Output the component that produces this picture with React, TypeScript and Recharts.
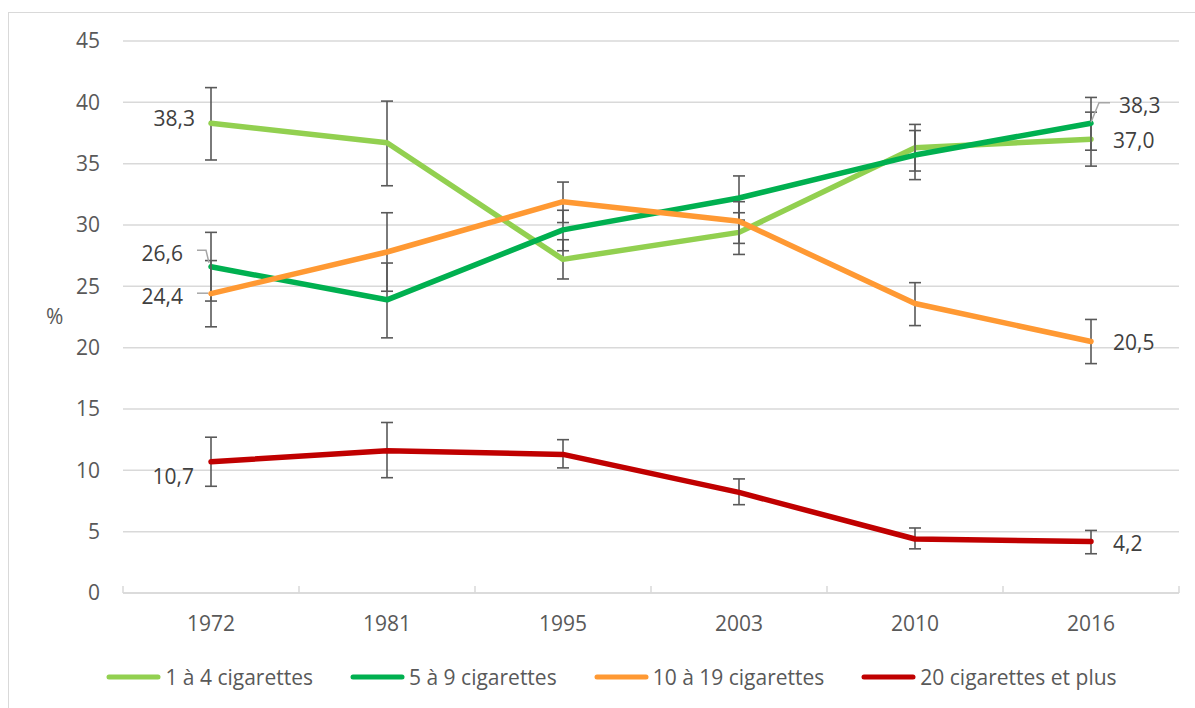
import React from 'react'
import {
  LineChart,
  Line,
  XAxis,
  YAxis,
  CartesianGrid,
  ErrorBar,
  LabelList,
  Legend,
} from 'recharts'

const YEARS = ['1972', '1981', '1995', '2003', '2010', '2016']
const Y_TICKS = [0, 5, 10, 15, 20, 25, 30, 35, 40, 45]

// share of smokers (%) by daily consumption, with confidence bounds
const ONE_TO_FOUR = [38.3, 36.7, 27.2, 29.4, 36.3, 37.0]
const ONE_TO_FOUR_LOW = [35.3, 33.2, 25.6, 27.6, 34.4, 34.8]
const ONE_TO_FOUR_HIGH = [41.2, 40.1, 28.8, 31.0, 38.2, 39.2]

const FIVE_TO_NINE = [26.6, 23.9, 29.6, 32.2, 35.7, 38.3]
const FIVE_TO_NINE_LOW = [23.8, 20.8, 27.9, 30.4, 33.7, 36.1]
const FIVE_TO_NINE_HIGH = [29.4, 26.9, 31.2, 34.0, 37.7, 40.4]

const TEN_TO_NINETEEN = [24.4, 27.8, 31.9, 30.3, 23.6, 20.5]
const TEN_TO_NINETEEN_LOW = [21.7, 24.6, 30.2, 28.5, 21.8, 18.7]
const TEN_TO_NINETEEN_HIGH = [27.1, 31.0, 33.5, 31.9, 25.3, 22.3]

const TWENTY_PLUS = [10.7, 11.6, 11.3, 8.2, 4.4, 4.2]
const TWENTY_PLUS_LOW = [8.7, 9.4, 10.2, 7.2, 3.6, 3.2]
const TWENTY_PLUS_HIGH = [12.7, 13.9, 12.5, 9.3, 5.3, 5.1]

const GRID = '#d9d9d9'
const AXIS_TEXT = '#595959'
const LABEL_TEXT = '#404040'
const LEADER = '#a6a6a6'
const FONT_SIZE = 21

const CHART_W = 1186
const CHART_H = 695
const MARGIN = { top: 28, right: 16, left: 0, bottom: 17 }
const Y_AXIS_W = 114
const PLOT_W = CHART_W - MARGIN.left - MARGIN.right - Y_AXIS_W
const PAD = PLOT_W / YEARS.length / 2

type Placement = {
  anchor: 'start' | 'end'
  dx: number
  dy: number
  leader?: [number, number][]
}

const SERIES = [
  {
    key: 'oneToFour',
    name: '1 à 4 cigarettes',
    color: '#92D050',
    values: ONE_TO_FOUR,
    low: ONE_TO_FOUR_LOW,
    high: ONE_TO_FOUR_HIGH,
    labels: {
      0: { anchor: 'end', dx: -16, dy: -5 },
      5: { anchor: 'start', dx: 22, dy: 2 },
    } as Record<number, Placement>,
  },
  {
    key: 'fiveToNine',
    name: '5 à 9 cigarettes',
    color: '#00B050',
    values: FIVE_TO_NINE,
    low: FIVE_TO_NINE_LOW,
    high: FIVE_TO_NINE_HIGH,
    labels: {
      0: { anchor: 'end', dx: -28, dy: -13.5, leader: [[-14, -16.5], [-5, -16.5], [-2, -4]] },
      5: { anchor: 'start', dx: 28, dy: -18, leader: [[0, -1], [8, -20.5], [19, -20.5]] },
    } as Record<number, Placement>,
  },
  {
    key: 'tenToNineteen',
    name: '10 à 19 cigarettes',
    color: '#FF9933',
    values: TEN_TO_NINETEEN,
    low: TEN_TO_NINETEEN_LOW,
    high: TEN_TO_NINETEEN_HIGH,
    labels: {
      0: { anchor: 'end', dx: -28, dy: 2.5, leader: [[-14, -0.5], [-3, -0.5]] },
      5: { anchor: 'start', dx: 22, dy: 1.5 },
    } as Record<number, Placement>,
  },
  {
    key: 'twentyPlus',
    name: '20 cigarettes et plus',
    color: '#C00000',
    values: TWENTY_PLUS,
    low: TWENTY_PLUS_LOW,
    high: TWENTY_PLUS_HIGH,
    labels: {
      0: { anchor: 'end', dx: -17, dy: 15 },
      5: { anchor: 'start', dx: 22, dy: 2 },
    } as Record<number, Placement>,
  },
]

const round2 = (v: number) => Math.round(v * 100) / 100

const rows = YEARS.map((year, i) => {
  const row: Record<string, any> = { year }
  SERIES.forEach((s) => {
    row[s.key] = s.values[i]
    row[`${s.key}Err`] = [round2(s.values[i] - s.low[i]), round2(s.high[i] - s.values[i])]
  })
  return row
})

const formatPct = (v: number) => v.toFixed(1).replace('.', ',')

// end-point value labels, with a short leader line where they sit off the point
function endLabel(placements: Record<number, Placement>) {
  return (props: any) => {
    const p = placements[props.index]
    if (!p) return null
    const x = props.viewBox?.x ?? props.x
    const y = props.viewBox?.y ?? props.y
    if (x == null || y == null) return null
    return (
      <g>
        {p.leader && (
          <polyline
            points={p.leader.map(([lx, ly]) => `${x + lx},${y + ly}`).join(' ')}
            fill="none"
            stroke={LEADER}
            strokeWidth={1.5}
          />
        )}
        <text
          x={x + p.dx}
          y={y + p.dy}
          dy="0.35em"
          textAnchor={p.anchor}
          fill={LABEL_TEXT}
          fontSize={FONT_SIZE}
        >
          {formatPct(Number(props.value))}
        </text>
      </g>
    )
  }
}

// year label centred on the category, tick marks on the category boundaries
function YearTick(props: any) {
  const { x, y, payload, index, visibleTicksCount, width } = props
  const step = visibleTicksCount > 1 ? (width - 2 * PAD) / (visibleTicksCount - 1) : 2 * PAD
  const half = step / 2
  return (
    <g>
      <line x1={x - half} x2={x - half} y1={y} y2={y - 7} stroke={GRID} strokeWidth={1.5} />
      {index === visibleTicksCount - 1 && (
        <line x1={x + half} x2={x + half} y1={y} y2={y - 7} stroke={GRID} strokeWidth={1.5} />
      )}
      <text x={x} y={y + 31} dy="0.35em" textAnchor="middle" fill={AXIS_TEXT} fontSize={FONT_SIZE}>
        {payload.value}
      </text>
    </g>
  )
}

// legend kept in series order
function LegendRow({ payload }: any) {
  const order = SERIES.map((s) => s.name)
  const items = [...(payload || [])].sort((a: any, b: any) => order.indexOf(a.value) - order.indexOf(b.value))
  return (
    <div
      style={{
        height: 28,
        display: 'flex',
        justifyContent: 'center',
        alignItems: 'center',
        gap: 37,
      }}
    >
      {items.map((entry: any) => (
        <div key={entry.value} style={{ display: 'flex', alignItems: 'center', gap: 4 }}>
          <svg width={55} height={8}>
            <line x1={3} x2={52} y1={4} y2={4} stroke={entry.color} strokeWidth={5} strokeLinecap="round" />
          </svg>
          <span style={{ fontSize: FONT_SIZE, color: AXIS_TEXT, lineHeight: '28px' }}>{entry.value}</span>
        </div>
      ))}
    </div>
  )
}

export default function App() {
  return (
    <div
      style={{
        position: 'absolute',
        left: 8,
        top: 12,
        width: 1187,
        height: 696,
        boxSizing: 'border-box',
        borderLeft: `1px solid ${GRID}`,
        borderTop: `1px solid ${GRID}`,
        background: '#fff',
        fontFamily: '"Open Sans", sans-serif',
      }}
    >
      <LineChart width={CHART_W} height={CHART_H} data={rows} margin={MARGIN}>
        <CartesianGrid vertical={false} stroke={GRID} strokeWidth={1.5} />
        <XAxis
          dataKey="year"
          padding={{ left: PAD, right: PAD }}
          axisLine={{ stroke: GRID, strokeWidth: 1.5 }}
          tickLine={false}
          tickSize={0}
          tickMargin={0}
          height={70}
          interval={0}
          tick={<YearTick />}
        />
        <YAxis
          width={Y_AXIS_W}
          domain={[0, 45]}
          ticks={Y_TICKS}
          interval={0}
          axisLine={false}
          tickLine={false}
          tickSize={0}
          tickMargin={23}
          tick={{ fill: AXIS_TEXT, fontSize: FONT_SIZE }}
          label={{ value: '%', position: 'insideLeft', offset: 37, fill: AXIS_TEXT, fontSize: FONT_SIZE }}
        />
        <Legend verticalAlign="bottom" height={28} wrapperStyle={{ left: 19, width: 1167 }} content={<LegendRow />} />
        {SERIES.map((s) => (
          <Line
            key={s.key}
            dataKey={s.key}
            name={s.name}
            stroke={s.color}
            strokeWidth={5.5}
            strokeLinecap="round"
            strokeLinejoin="round"
            dot={false}
            activeDot={false}
            isAnimationActive={false}
          >
            <ErrorBar
              dataKey={`${s.key}Err`}
              direction="y"
              width={6}
              stroke="#595959"
              strokeWidth={1.6}
              isAnimationActive={false}
            />
            <LabelList dataKey={s.key} content={endLabel(s.labels)} />
          </Line>
        ))}
      </LineChart>
    </div>
  )
}
